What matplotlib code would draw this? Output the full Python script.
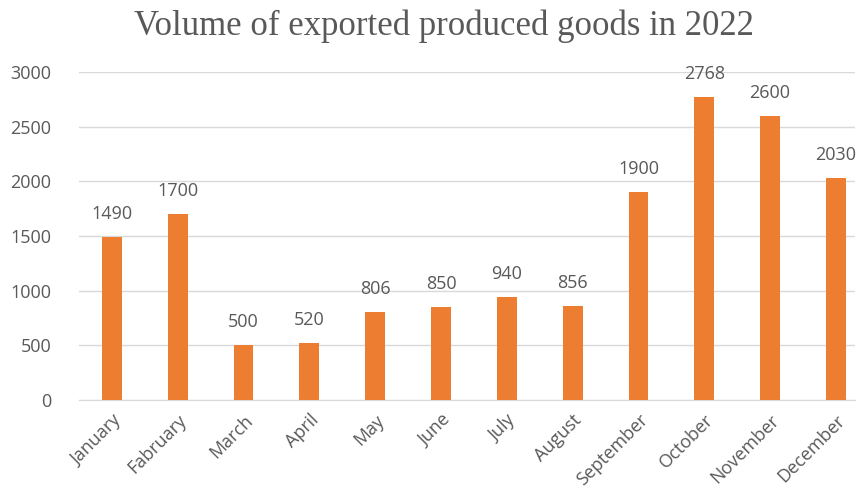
import numpy as np
import matplotlib.pyplot as plt

# Data
months = ["January", "Fabruary", "March", "April", "May", "June",
          "July", "August", "September", "October", "November", "December"]
volume = [1490, 1700, 500, 520, 806, 850, 940, 856, 1900, 2768, 2600, 2030]

bar_color = "#ED7D31"
text_color = "#595959"

fig = plt.figure(figsize=(8.56, 5.01), dpi=100)
ax = fig.add_axes([79 / 856, 1 - 400 / 501, (855 - 79) / 856, (400 - 72) / 501])

x = np.arange(len(months))
ax.bar(x, volume, width=0.3, color=bar_color, zorder=3)

for xi, v in zip(x, volume):
    ax.text(xi, v + 130, str(v), ha="center", va="bottom",
            fontsize=13, color=text_color, family="Open Sans")

ax.set_ylim(0, 3000)
ax.set_xlim(-0.5, 11.29)
ax.set_yticks(np.arange(0, 3001, 500))
ax.yaxis.grid(True, color="#D9D9D9", linewidth=1, zorder=0)
ax.set_xticks(x)
ax.set_xticklabels(months, rotation=45, ha="right", rotation_mode="anchor",
                   family="Open Sans", fontsize=13, color=text_color)
for lbl in ax.get_yticklabels():
    lbl.set_family("Open Sans")
    lbl.set_fontsize(13)
    lbl.set_color(text_color)
ax.tick_params(length=0)
ax.tick_params(axis="y", pad=20)
ax.tick_params(axis="x", pad=8)
for side in ["top", "right", "left"]:
    ax.spines[side].set_visible(False)
ax.spines["bottom"].set_color("#D9D9D9")

fig.text(0.519, 0.948, "Volume of exported produced goods in 2022", ha="center", va="center",
         fontsize=25, color=text_color, family="Liberation Serif")

fig.savefig("out.png", dpi=100)
